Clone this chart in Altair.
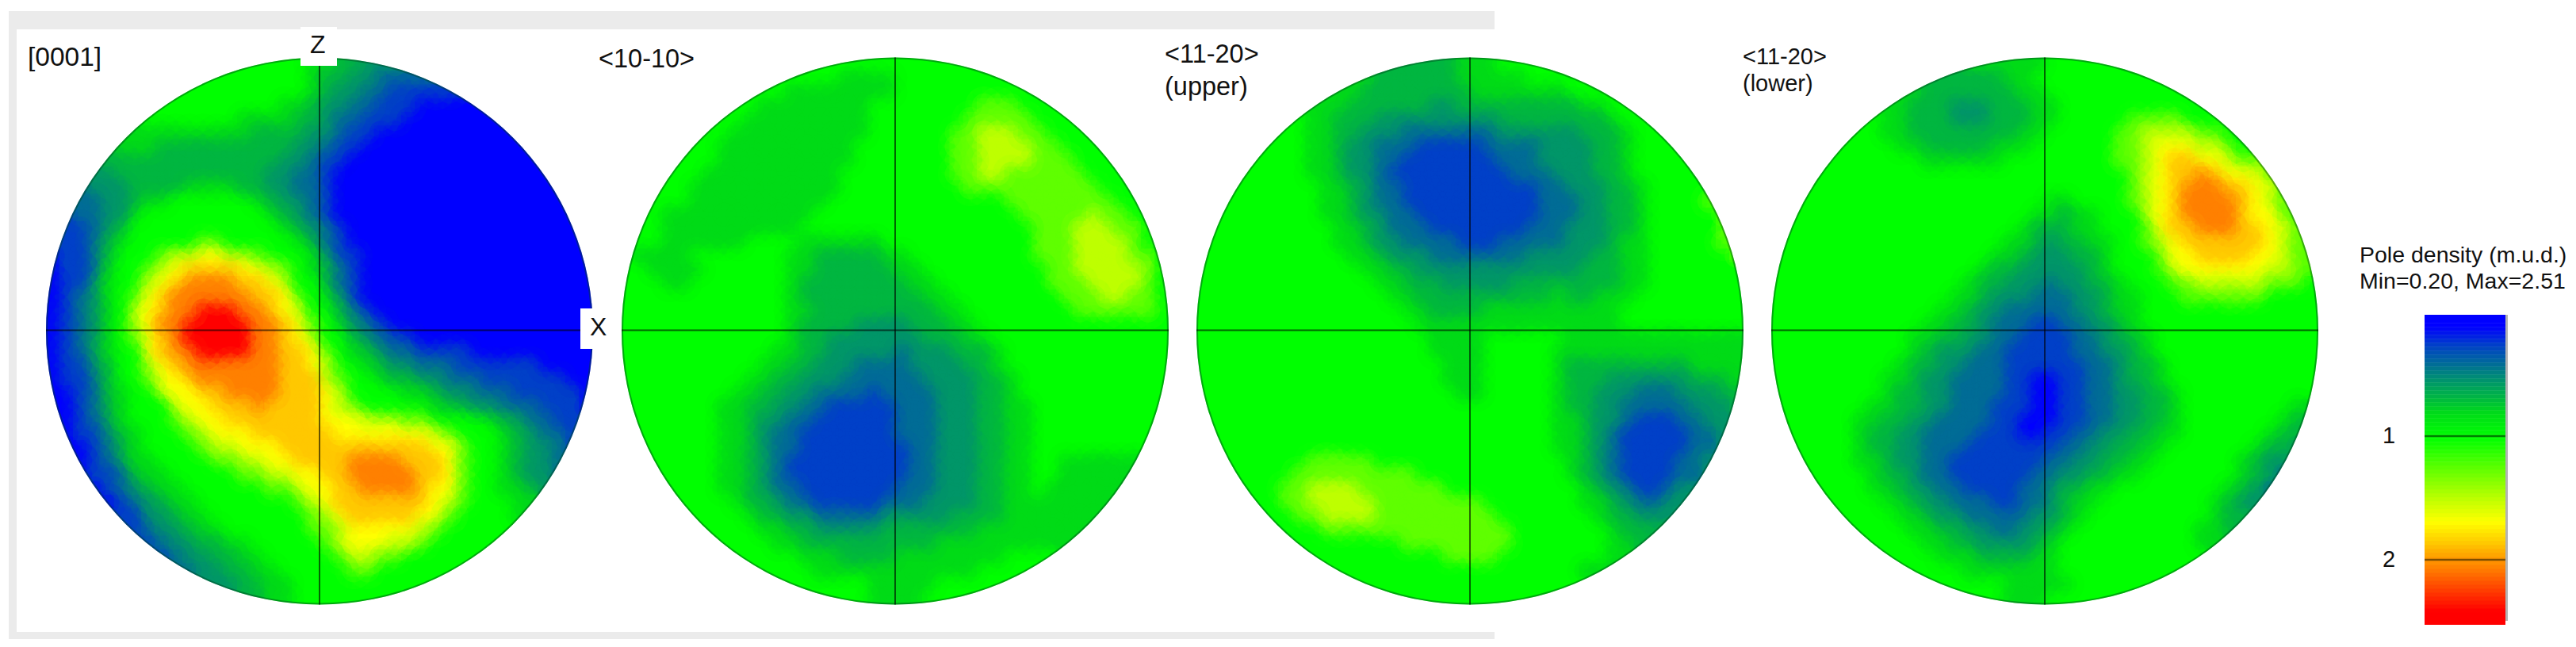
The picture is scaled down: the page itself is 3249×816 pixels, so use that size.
import altair as alt
import numpy as np
import pandas as pd

# Density classes (one character per cell, rows centred on the disc)
LEVELS = dict(zip("0123456789ABC", [0.1, 0.25, 0.4, 0.55, 0.68, 0.8, 1.0, 1.25, 1.5, 1.68, 1.85, 2.05, 2.4]))
COLORS = ["#0000ff", "#0040c8", "#006c98", "#009868", "#00b840", "#00dc18", "#00ff00",
          "#60ff00", "#c0ff00", "#ffff00", "#ffc800", "#ff8000", "#ff0000"]

P0001 = [
"6666554433","6666666544332222","66666666654332211111","666666666554332211100000",
"66666665555443221110000000","5555555554444332110000000000","555444444444433211000000000000",
"44444444444443321100000000000000","33"+"4"*11+"33221"+"0"*16,
"233344445555443322100000000000000000","2233455666666543321"+"0"*17,
"122335"+"6"*9+"54321"+"0"*18,"11234"+"6"*11+"54321"+"0"*17,
"11245"+"66666"+"77"+"66666"+"5421"+"0"*17,"01124"+"666"+"78899887"+"666"+"5311"+"0"*17,
"01125667"+"89AAAA99"+"8765421"+"0"*17,"01135668"+"9ABBBBAA"+"9866421"+"0"*17,
"01235679ABBBBBBAA976531"+"0"*17,"012356"+"89A"+"BBCCCBB"+"A98"+"66421"+"0"*16,
"01235689BBCCCCCBBA9765321"+"0"*15,"01235679ABCCCCCBBA986643211"+"0"*13,
"01235669ABBCCCCBBAA976543221111"+"0"*9,"0113466"+"89A"+"BBBBBBB"+"AA98"+"665433"+"222"+"111111"+"0000",
"0112466"+"799A"+"BBBBBB"+"AAA87"+"6654433"+"222"+"111111"+"00",
"00124566"+"899AA"+"BBBB"+"AAA98"+"6666"+"55433"+"222"+"11111"+"0",
"001245666"+"899AAA"+"B"+"AAAA"+"987"+"66666"+"54433"+"222"+"111"+"0",
"01235666"+"7899"+"AAAAAAA"+"999888"+"77"+"6666"+"5432211",
"011345666"+"78999"+"AAAAAA"+"9999999"+"87"+"666"+"543221",
"001245"+"6666"+"788"+"999"+"AAAAAAAAAAA"+"99"+"7"+"66"+"543321",
"01235566667788"+"99AAAA"+"BBBB"+"AAA97"+"66"+"54332","0112455"+"66666"+"7788"+"99AA"+"BBBBB"+"AA97"+"66"+"54332",
"0123455"+"666666"+"77899AA"+"BBBB"+"A997"+"66"+"5543","0123455"+"6666666"+"789"+"AAAAAAA"+"987"+"666"+"55",
"1133455"+"6666666"+"789"+"AAAAA"+"997"+"6666"+"5","1233455"+"666666"+"778"+"99999"+"87"+"66666",
"12334455"+"66666"+"78999887"+"66666","12334455"+"66666"+"78877"+"666666","2334455"+"66666"+"77"+"666666",
"3344556666666666","4556666666"]

P1010 = [
"6666666666","6666555566666666","66555555556666666666","66"+"5"*8+"6"*8+"777666",
"66"+"5"*9+"6"*7+"77777666","66"+"5"*10+"6"*6+"7788877666","66"+"5"*10+"6"*7+"77888877666","666"+"5"*10+"6"*7+"778888777666",
"666"+"5"*10+"6"*8+"7788777777666","666"+"5"*11+"6"*9+"7777777777666","666"+"5"*10+"6"*13+"7777777766",
"66"+"5"*11+"6"*15+"77777"+"8"+"77"+"66","66"+"5"*10+"6"*17+"777888776",
"66"+"5"*6+"6666"+"555555"+"6"*11+"777"+"8888"+"76","6"+"5555"+"6"*7+"55"+"44444"+"55"+"6"*9+"777"+"8888"+"776",
"66"+"5555"+"6"*6+"55"+"444444"+"55"+"6"*9+"77"+"88888"+"76","666"+"55"+"6"*7+"54"+"444444"+"4"+"55"+"6"*8+"777"+"8888"+"76",
"6"*12+"5"+"4"*9+"55"+"6"*8+"777"+"88"+"77"+"6","6"*12+"55"+"4"*9+"55"+"6"*8+"7"*6+"6",
"6"*12+"5"+"4444"+"3333"+"444"+"55"+"6"*14,"6"*12+"5"+"44"+"3"*7+"444"+"55"+"6"*13,
"6"*11+"55"+"44"+"33333"+"2"+"333"+"444"+"5"+"6"*12,"6"*10+"55"+"44"+"333"+"2222"+"3333"+"44"+"5"+"6"*12,
"6"*9+"55"+"44"+"333"+"222222"+"3333"+"44"+"5"+"6"*11,"6"*8+"55"+"44"+"33"+"2222"+"1"+"2222"+"333"+"44"+"5"+"6"*11,
"6"*7+"55"+"44"+"33"+"22"+"11111"+"222"+"333"+"44"+"55"+"6"*10,"6"*6+"55"+"4"+"33"+"22"+"111111"+"222"+"333"+"44"+"55"+"6"*9,
"6"*6+"55"+"4"+"3"+"22"+"1"*7+"222"+"333"+"44"+"55"+"6"*9,"6"*6+"55"+"4"+"3"+"22"+"1"*8+"22"+"333"+"44"+"55"+"6"*9,
"66666"+"55"+"4"+"3"+"2"+"1"*9+"22"+"333"+"44"+"55"+"66"+"555555","66666"+"55"+"4"+"3"+"2"+"1"*9+"22"+"333"+"44"+"55"+"66"+"555555",
"6666"+"55"+"4"+"3"+"22"+"1"*7+"222"+"333"+"44"+"55"+"6"+"555555","6666"+"5"+"44"+"3"+"22"+"11111"+"222"+"3333"+"44"+"5"*8,
"6666"+"5"+"44"+"33"+"22222"+"33333"+"4444"+"5"*7,"6666"+"55"+"44"+"33333"+"4"*7+"5"*8,"6666"+"55"+"4"*10+"5"*10,
"66666"+"555"+"4444"+"5"*8+"6666","6666"+"5"*12+"6666","666666"+"55555"+"66666","6665555666"]

P1120U = [
"4444555666","5444444555556666","55444444445555555666","555444444334444444445566",
"655444"+"333333333"+"44444444"+"566","665544"+"333"+"2222222"+"333333"+"444"+"5"+"66",
"666"+"55"+"4"+"33"+"222"+"11111"+"2222"+"3333"+"44"+"5"+"666","6666"+"55"+"4"+"33"+"22"+"1"*7+"222"+"3333"+"44"+"5"+"6666",
"66666"+"55"+"4"+"33"+"2"+"1"*9+"222"+"333"+"44"+"5"+"66666","6"*7+"55"+"4"+"3"+"22"+"1"*10+"22"+"333"+"44"+"5"+"66666",
"6"*7+"55"+"4"+"3"+"22"+"1"*10+"222"+"33"+"44"+"5"+"66667","6"*8+"55"+"4"+"33"+"22"+"1"*9+"222"+"33"+"44"+"5"+"66666"+"7",
"6"*9+"55"+"4"+"3"+"222"+"1"*7+"222"+"333"+"44"+"5"+"66666"+"7","6"*9+"55"+"4"+"33"+"2222"+"111"+"22222"+"333"+"4"+"55"+"66666"+"7",
"6"*11+"55"+"4"+"333"+"2"*7+"33333"+"44"+"55"+"666666"+"7","6"*12+"55"+"44"+"3"*12+"444"+"55"+"6"*7,
"6"*13+"55"+"444"+"33333"+"4"*8+"55"+"6"*7,"6"*14+"55"+"4"*10+"5"+"44"+"555"+"6"+"6"*7,
"6"*15+"55"+"4444"+"5"*10+"66"+"6"*7,"6"*16+"5"*15+"6"*9,"6"*17+"5555"+"6"*6+"5"*13,"6"*17+"5555"+"6"*5+"5"*14,
"6"*18+"555"+"6"*5+"5"+"4"*9+"5555","6"*18+"555"+"6"*5+"5"+"444"+"333333"+"444"+"5",
"6"*19+"55"+"6"*5+"5"+"44"+"333"+"222"+"333"+"44","6"*26+"5"+"44"+"33"+"22222"+"333"+"4",
"6"*25+"55"+"4"+"33"+"2"+"111"+"22"+"33","6"*25+"55"+"4"+"3"+"2"+"11111"+"22"+"3","6"*25+"55"+"4"+"3"+"2"+"11111"+"22"+"3",
"666666"+"77777"+"6"*14+"5"+"4"+"3"+"2"+"1111"+"22"+"3","66666"+"7"*9+"6"*11+"5"+"4"+"3"+"2"+"1111"+"22"+"3",
"666"+"77"+"8888"+"777777"+"6"*10+"5"+"4"+"3"+"2"+"11"+"2"+"33","66"+"77"+"88888"+"7"*8+"6"*7+"55"+"4"+"3"+"22"+"33",
"66"+"77"+"8888"+"7"*9+"6"*7+"5"+"44"+"333","666"+"7"*14+"6"*7+"5"+"444","6"*8+"7"*8+"6"*7+"554",
"6"*10+"7777"+"6"*8+"55","6"*18+"55","6"*16,"6"*10]

P1120L = [
"5555566666","4444455666666666","54444444556666666666","554443334445566666666666",
"6554443334445566666"+"7777"+"666","6655"+"44444444"+"55"+"66666"+"778888776",
"6666"+"55"+"44444"+"555"+"666666"+"7789998876","6"*7+"555555"+"6"*8+"77"+"89AA99877","6"*23+"789AABA9987",
"6"*24+"789ABBBAA987","6"*18+"55"+"6666"+"789ABBBBA987","6"*18+"5545566"+"689ABBBBA9977",
"6"*17+"54445566"+"679AABBBAA987","6"*16+"554344556"+"6789AAAAAA987","6"*16+"5543334456"+"66799AAAA99877",
"6"*15+"54433333456"+"667"+"8"+"999999"+"8877","6"*14+"544333233445"+"66677"+"88888"+"7776",
"6"*13+"55"+"4"+"333"+"222"+"33"+"4"+"5"+"5"+"666"+"777777"+"6666","6"*12+"554"+"33"+"22222"+"33"+"45"+"5"+"6"*13,
"6"*11+"5544"+"3"+"222"+"11"+"22"+"33"+"45"+"6"*13,"6"*10+"554433"+"22"+"1111"+"22"+"3"+"44"+"5"+"6"*12,
"6"*10+"5"+"4"+"333"+"22"+"11111"+"22"+"33"+"4"+"5"+"6"*12,"6"*9+"5"+"44"+"33"+"222"+"111111"+"22"+"3"+"44"+"5"+"6"*11,
"6"*8+"55"+"4"+"33"+"2222"+"11"+"00"+"11"+"22"+"3"+"44"+"5"+"6"*11,"6"*8+"5"+"44"+"33"+"2222"+"11"+"00"+"11"+"22"+"33"+"44"+"5"+"6"*10,
"6"*7+"55"+"44"+"33"+"222"+"111"+"00"+"11"+"22"+"33"+"44"+"5"+"6"*8+"55","6"*5+"55"+"44"+"33"+"2222"+"11"+"000"+"11"+"22"+"33"+"44"+"5"+"6"*7+"54",
"6"*5+"5"+"44"+"33"+"2222"+"111"+"00"+"11"+"22"+"33"+"44"+"55"+"6"*6+"544","6"*5+"5"+"44"+"33"+"222"+"1"*7+"22"+"33"+"44"+"55"+"6"*6+"5443",
"6"*4+"55"+"4"+"33"+"22"+"1"*7+"22"+"33"+"44"+"55"+"66"+"6666"+"5433","6"*5+"5"+"44"+"3"+"22"+"111111"+"22"+"33"+"44"+"55"+"666"+"6666"+"5432",
"6666"+"55"+"4"+"33"+"22"+"1111"+"22"+"3"+"44"+"55"+"66666"+"666"+"5432","6666"+"55"+"4"+"33"+"222"+"11"+"22"+"3"+"4"+"55"+"6"*8+"5433",
"6666"+"55"+"4"+"33"+"22222"+"33"+"4"+"5"+"6"*9+"544","6666"+"55"+"44"+"33"+"22"+"33"+"4"+"5"+"6"*9+"554",
"6666"+"55"+"44"+"3333"+"4"+"5"+"6"*10+"55","6666"+"555"+"4444"+"55"+"6"*11,"6666"+"5"*7+"6"*9,"6666655555666666","6655566666"]

PANELS = [P0001, P1010, P1120U, P1120L]
PANEL_X = [403, 1129, 1854, 2579]
PANEL_Y = 417.5
RADIUS = 345
GRID = 40
BAR_STEPS = np.linspace(0.02, 2.49, 78)

FONT = "Liberation Sans"
RING = 30
WIDE_R = 27
NEAR_R = 17
cell = 2 * RADIUS / GRID
rows = []
for cx, panel in zip(PANEL_X, PANELS):
    for r, s in enumerate(panel):
        start = (GRID - len(s)) // 2
        # carry each row's end values out to the full grid so the disc edge is fully covered
        full = s[0] * start + s + s[-1] * (GRID - start - len(s))
        for c, ch in enumerate(full):
            x0 = cx - RADIUS + c * cell
            y0 = PANEL_Y - RADIUS + r * cell
            xc, yc = x0 + cell / 2, y0 + cell / 2
            dist = np.hypot(xc - cx, yc - PANEL_Y)
            if dist <= RADIUS + cell:
                rows.append(dict(x=x0, x2=x0 + cell, y=y0, y2=y0 + cell, xc=xc, yc=yc, d=LEVELS[ch],
                                 dist=dist, turn=(3 * r + 5 * c) % 7))
cells = pd.DataFrame(rows)
# draw the soft discs in interleaved passes so no direction is favoured
soft_cells = cells.sort_values("turn", kind="stable")
wide_cells = soft_cells[soft_cells.dist + WIDE_R <= RADIUS + RING - 4]
near_cells = soft_cells[soft_cells.dist + NEAR_R <= RADIUS + RING - 4]

xs = alt.Scale(domain=[8, 3241])
ys = alt.Scale(domain=[808, 8])
cs = alt.Scale(domain=list(LEVELS.values()), range=COLORS, clamp=True, interpolate="rgb")
X = lambda f: alt.X(f, type="quantitative", scale=xs, axis=None)
Y = lambda f: alt.Y(f, type="quantitative", scale=ys, axis=None)
col = alt.Color("d:Q", scale=cs, legend=None)


def boxes(df, **kw):
    return alt.Chart(df).mark_rect(**kw).encode(X("x"), alt.X2("x2"), Y("y"), alt.Y2("y2"))


frame = pd.DataFrame(dict(x=[11, 11, 11], x2=[1885, 21, 1885], y=[14, 14, 797], y2=[37, 806, 806]))
base = boxes(frame, color="#ebebeb")

heat = alt.Chart(cells).mark_rect(strokeWidth=1).encode(X("x"), alt.X2("x2"), Y("y"), alt.Y2("y2"), color=col, stroke=alt.Stroke("d:Q", scale=cs, legend=None))
soft_wide = alt.Chart(wide_cells).mark_circle(size=np.pi * WIDE_R ** 2, opacity=0.2, strokeWidth=0).encode(X("xc"), Y("yc"), color=col)
soft_near = alt.Chart(near_cells).mark_circle(size=np.pi * NEAR_R ** 2, opacity=0.22, strokeWidth=0).encode(X("xc"), Y("yc"), color=col)

centers = pd.DataFrame(dict(x=PANEL_X, y=[PANEL_Y] * 4))
tau = 2 * np.pi
mask = alt.Chart(centers).mark_arc(innerRadius=RADIUS, outerRadius=RADIUS + RING, theta=0, theta2=tau, color="white").encode(X("x"), Y("y"))
rim = alt.Chart(centers).mark_arc(innerRadius=RADIUS - 2, outerRadius=RADIUS, theta=0, theta2=tau, color="#004020", opacity=0.45).encode(X("x"), Y("y"))

hl = pd.DataFrame(dict(x=[c - RADIUS for c in PANEL_X], x2=[c + RADIUS for c in PANEL_X], y=[PANEL_Y - 1] * 4))
vl = pd.DataFrame(dict(x=PANEL_X, y=[PANEL_Y - RADIUS] * 4, y2=[PANEL_Y + RADIUS] * 4))
cross_h = alt.Chart(hl).mark_rule(color="#000000", opacity=0.6, strokeWidth=2).encode(X("x"), alt.X2("x2"), Y("y"))
cross_v = alt.Chart(vl).mark_rule(color="#000000", opacity=0.6, strokeWidth=2).encode(X("x"), Y("y"), alt.Y2("y2"))

white = pd.DataFrame(dict(x=[379, 732], x2=[425, 768], y=[34, 389], y2=[83, 440]))
whites = boxes(white, color="white")

labels = pd.DataFrame([
    dict(t="[0001]", x=35, y=73, s=33.5), dict(t="<10-10>", x=755, y=75, s=32.5),
    dict(t="<11-20>", x=1469, y=69, s=32.5), dict(t="(upper)", x=1469, y=110, s=32.5),
    dict(t="<11-20>", x=2198, y=72, s=29), dict(t="(lower)", x=2198, y=106, s=29),
    dict(t="Pole density (m.u.d.)", x=2976, y=322, s=28.5), dict(t="Min=0.20, Max=2.51", x=2976, y=355, s=28.5),
    dict(t="Z", x=391, y=57, s=32), dict(t="X", x=744, y=413, s=32),
    dict(t="1", x=3005, y=550, s=29), dict(t="2", x=3005, y=706, s=29),
])
text = alt.Chart(labels).mark_text(align="left", baseline="middle", font=FONT, color="#111111").encode(
    X("x"), Y("y"), text="t:N", size=alt.Size("s:Q", scale=None, legend=None))

bar = pd.DataFrame(dict(d=BAR_STEPS))
bar["y"] = 550 + (bar.d - 1) * 156
bar["y2"] = bar.y + 156 * (BAR_STEPS[1] - BAR_STEPS[0]) + 0.6
bar["x"] = 3058
bar["x2"] = 3160
barc = alt.Chart(bar).mark_rect().encode(X("x"), alt.X2("x2"), Y("y"), alt.Y2("y2"), color=col)
ticks = pd.DataFrame(dict(x=[3058, 3058], x2=[3160, 3160], y=[550, 706]))
barticks = alt.Chart(ticks).mark_rule(color="#000000", opacity=0.5, strokeWidth=2.5).encode(X("x"), alt.X2("x2"), Y("y"))
edge = pd.DataFrame(dict(x=[3160], x2=[3163], y=[397], y2=[783]))
baredge = boxes(edge, color="#808080", opacity=0.6)

chart = alt.layer(base, heat, soft_wide, soft_near, mask, rim, cross_h, cross_v, whites, text, barc, barticks, baredge).properties(
    width=3233, height=800, padding=0, background="white"
).configure_view(strokeWidth=0)

chart.save("out.html", embed_options={"renderer": "svg", "actions": False})
